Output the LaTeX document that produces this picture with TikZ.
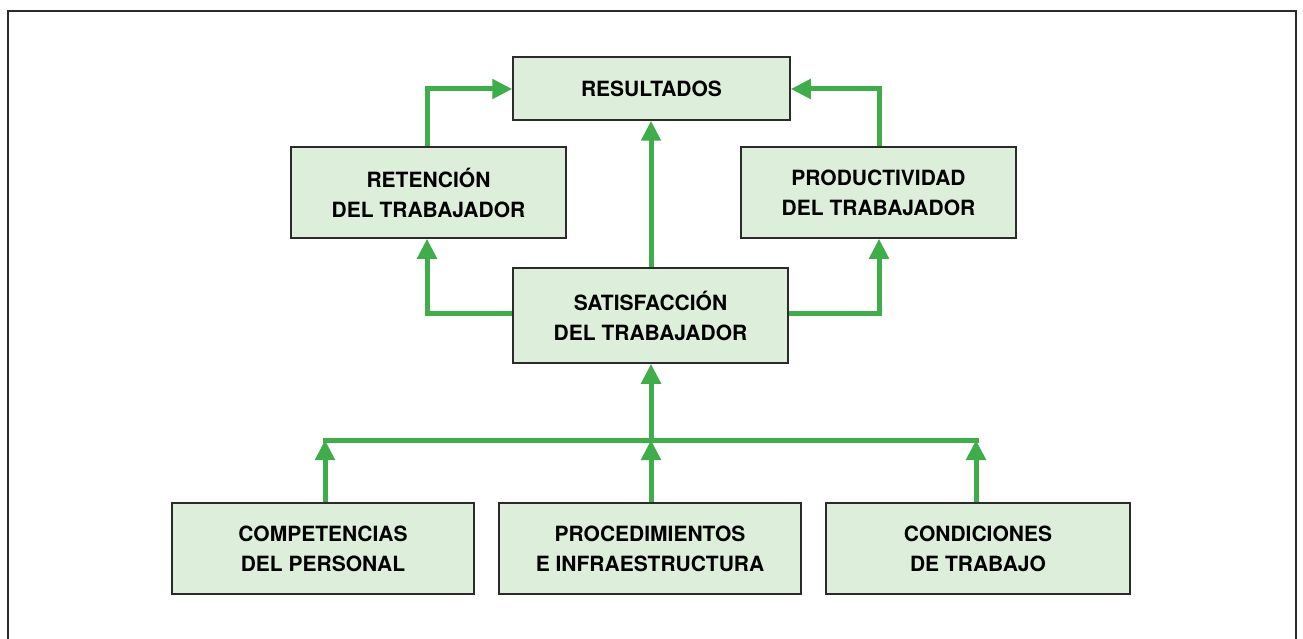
\documentclass[tikz,border=0pt]{standalone}
\usepackage{fontspec}
\setmainfont{TeX Gyre Heros}
\usetikzlibrary{arrows.meta}
\definecolor{gr}{HTML}{3FAE4A}
\definecolor{boxfill}{HTML}{DDEEDA}
\definecolor{framecol}{HTML}{2B2B2B}
\tikzset{
  box/.style={draw=framecol, line width=1.5pt, fill=boxfill, inner sep=0pt, align=center,
    font=\fontsize{21}{30}\selectfont\bfseries},
  conn/.style={draw=gr, line width=5pt, -{Triangle[width=19pt,length=20pt]}},
  bus/.style={draw=gr, line width=5pt}
}
\begin{document}
\begin{tikzpicture}[x=1pt,y=-1pt]
\useasboundingbox (0,0) rectangle (1303,639);
\draw[framecol, line width=2pt] (8,639) -- (8,11) -- (1296,11) -- (1296,639);
\node[box, minimum width=277pt, minimum height=63pt] (res) at (651.5,88.5) {RESULTADOS};
\node[box, minimum width=275pt, minimum height=91pt] (ret) at (428.5,192.5) {RETENCIÓN\\DEL TRABAJADOR};
\node[box, minimum width=275pt, minimum height=91pt] (pro) at (878.5,192.5) {PRODUCTIVIDAD\\DEL TRABAJADOR};
\node[box, minimum width=275pt, minimum height=95pt] (sat) at (650.5,315.5) {SATISFACCIÓN\\DEL TRABAJADOR};
\node[box, minimum width=302pt, minimum height=91pt] (com) at (323,548.5) {COMPETENCIAS\\DEL PERSONAL};
\node[box, minimum width=302pt, minimum height=91pt] (prc) at (650,548.5) {PROCEDIMIENTOS\\E INFRAESTRUCTURA};
\node[box, minimum width=304pt, minimum height=91pt] (con) at (978,548.5) {CONDICIONES\\DE TRABAJO};
\coordinate (busL) at (325,440);
\coordinate (busM) at (651,440);
\coordinate (busR) at (976,440);
% top connectors
\draw[conn] ([xshift=-1.5pt]ret.north) |- ([yshift=-0.5pt]res.west);
\draw[conn] ([xshift=0.5pt]pro.north) |- ([yshift=-0.5pt]res.east);
\draw[conn] ([xshift=0.5pt]sat.north) -- ([xshift=0.5pt]sat.north |- res.south);
\draw[conn] ([yshift=2.5pt]sat.west) -| ([xshift=-1.5pt]ret.south);
\draw[conn] ([yshift=2.5pt]sat.east) -| ([xshift=0.5pt]pro.south);
% bus
\draw[bus] ([xshift=-2.5pt]busL) -- ([xshift=2.5pt]busR);
\draw[conn] (busM) -- (busM |- sat.south);
\draw[conn] (com.north -| busL) -- (busL);
\draw[conn] (prc.north -| busM) -- (busM);
\draw[conn] (con.north -| busR) -- (busR);
\end{tikzpicture}
\end{document}
